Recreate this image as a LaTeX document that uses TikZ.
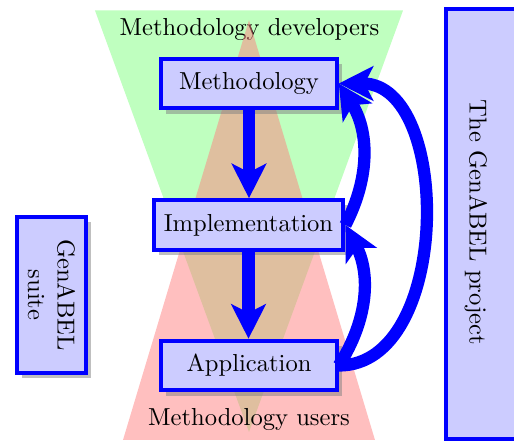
\documentclass[tikz,border=0pt]{standalone}
\usetikzlibrary{arrows.meta,shadows}
\begin{document}
\begin{tikzpicture}[x=0.407pt,y=0.407pt,
  stage/.style={draw=blue, fill=blue!20, ultra thick, minimum height=20.2pt, inner xsep=4.2pt, drop shadow},
  flow/.style={blue, line width=5pt, -{Stealth[length=14pt,width=14pt,inset=3.5pt]}},
]
\useasboundingbox (0,0) rectangle (514,-442);
\fill[green!25] (95,-10.5) -- (403,-10.5) -- (249,-432) -- cycle;
\node (dev) at (249.5,-30) {Methodology developers};
\fill[red!50, opacity=.5] (123,-440) -- (375,-440) -- (249,-20) -- cycle;
\node (users) at (249,-420) {Methodology users};
\node[stage, minimum width=71.5pt] (meth) at (249,-83.5) {Methodology};
\node[stage] (impl) at (248.5,-225) {Implementation};
\node[stage, minimum width=71.5pt] (app) at (249,-365.5) {Application};
\node[stage, rotate=-90, align=center, minimum width=63.5pt, minimum height=28pt] (suite) at (51.5,-295) {GenABEL\\suite};
\node[draw=blue, fill=blue!20, ultra thick, minimum width=41pt, minimum height=175pt] (projbox) at (496,-224) {};
\node[rotate=-90] (proj) at (476,-222.5) {The GenABEL project};
\draw[flow] (meth.south) -- (meth.south |- impl.north);
\draw[flow] (impl.south) -- (impl.south |- app.north);
\draw[flow] (impl.east) to[bend right] (meth.east);
\draw[flow] (app.east) to[bend right] (impl.east);
\draw[flow] (app.east) to[out=0,in=0,looseness=1.03] (meth.east);
\end{tikzpicture}
\end{document}
